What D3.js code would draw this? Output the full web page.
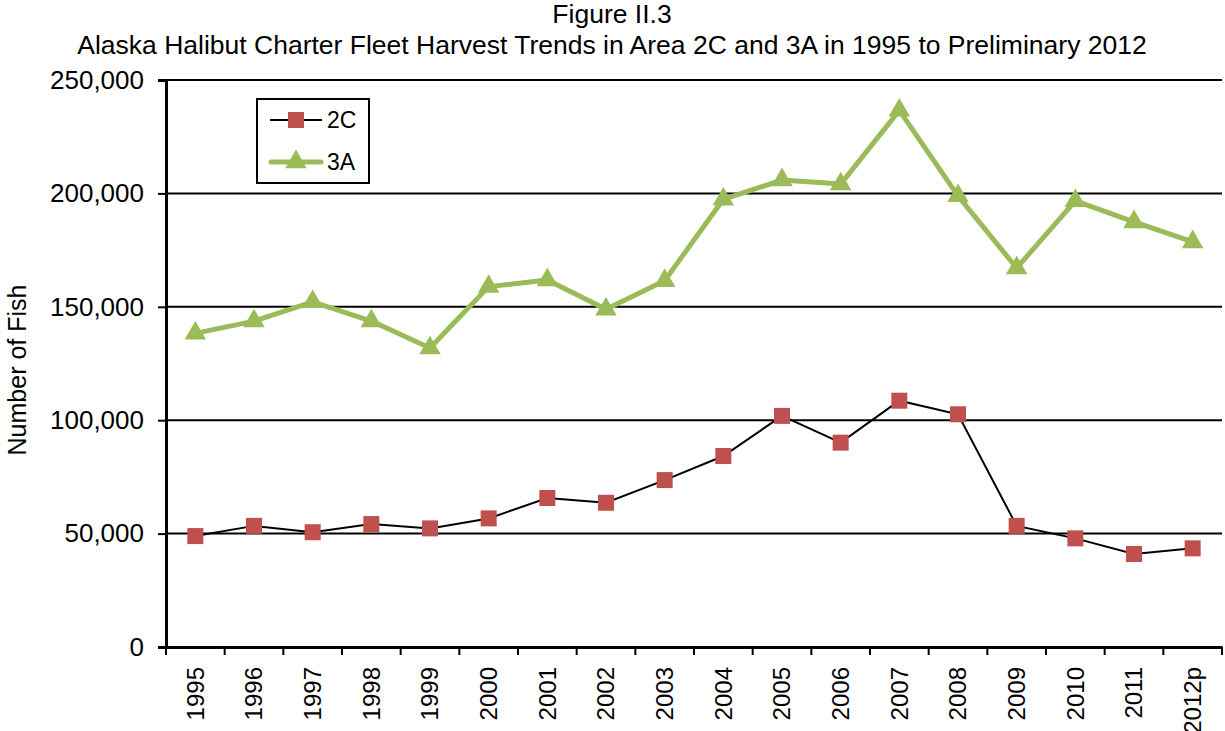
<!DOCTYPE html>
<html><head><meta charset="utf-8">
<script src="https://cdn.jsdelivr.net/npm/d3@7"></script>
<style>body{margin:0;background:#fff;} text{font-family:Arial,"Liberation Sans",sans-serif;}</style>
</head><body>
<svg id="c" width="1225" height="731"></svg>
<script>
const categories = ["1995","1996","1997","1998","1999","2000","2001","2002","2003","2004","2005","2006","2007","2008","2009","2010","2011","2012p"];
const series2C = [48900,53400,50600,54200,52300,56700,65700,63600,73600,84200,101900,90100,108600,102600,53400,47900,41000,43500];
const series3A = [138300,143700,152200,143700,131800,158900,161800,148900,161500,197400,205900,204100,236600,198900,167100,196700,187400,178600];
const yTicks = [0,50000,100000,150000,200000,250000];
const titleLines = ["Figure II.3","Alaska Halibut Charter Fleet Harvest Trends in Area 2C and 3A in 1995 to Preliminary 2012"];
const yLabel = "Number of Fish";
const legendNames = ["2C","3A"];

const svg = d3.select("#c");
const L=166, R=1222, T=80, B=647;
const x = d3.scaleBand().domain(categories).range([L,R]);
const y = d3.scaleLinear().domain([0,250000]).range([B,T]);
const fmt = d3.format(",");

// titles
svg.selectAll("text.title").data(titleLines).join("text")
  .attr("x",612).attr("y",(d,i)=>23+i*31).attr("text-anchor","middle")
  .attr("font-size",26.5).attr("fill","#000").text(d=>d);

// gridlines
svg.append("g").selectAll("line").data(yTicks.filter(d=>d>0)).join("line")
  .attr("x1",L).attr("x2",R).attr("y1",d=>y(d)).attr("y2",d=>y(d))
  .attr("stroke","#000").attr("stroke-width",2);

// y axis
const ya = svg.append("g").attr("transform",`translate(${L},0)`)
  .call(d3.axisLeft(y).tickValues(yTicks).tickFormat(fmt).tickSize(8).tickPadding(14));
ya.select(".domain").attr("stroke","#000").attr("stroke-width",3);
ya.selectAll(".tick line").attr("stroke","#000").attr("stroke-width",2);
ya.selectAll(".tick text").attr("font-size",26).attr("fill","#000").attr("font-family","Arial, 'Liberation Sans', sans-serif");

// x axis
const xa = svg.append("g").attr("transform",`translate(0,${B})`)
  .call(d3.axisBottom(x).tickSize(0).tickPadding(0));
xa.select(".domain").attr("stroke","#000").attr("stroke-width",3);
xa.selectAll(".tick text").attr("font-size",24).attr("fill","#000")
  .attr("font-family","Arial, 'Liberation Sans', sans-serif")
  .attr("transform","rotate(-90)").attr("text-anchor","end")
  .attr("x",-20).attr("y",0).attr("dy","0.35em");
// x tick marks at band boundaries
const bounds = categories.map(c=>x(c)).concat([R]);
svg.append("g").selectAll("line").data(bounds).join("line")
  .attr("x1",d=>d).attr("x2",d=>d).attr("y1",B).attr("y2",B+8)
  .attr("stroke","#000").attr("stroke-width",2);

// y label
svg.append("text").attr("transform",`translate(26,370) rotate(-90)`)
  .attr("text-anchor","middle").attr("font-size",25).attr("fill","#000").text(yLabel);

const cx = d=>x(d)+x.bandwidth()/2;
const line = d3.line().x((d,i)=>cx(categories[i])).y(d=>y(d));

// 3A
svg.append("path").datum(series3A).attr("d",line).attr("fill","none")
  .attr("stroke","#9BBB59").attr("stroke-width",5).attr("stroke-linejoin","round");
const tri = d3.symbol().type(d3.symbolTriangle).size(200);
svg.append("g").selectAll("path").data(series3A).join("path")
  .attr("d",tri).attr("transform",(d,i)=>`translate(${cx(categories[i])},${y(d)})`)
  .attr("fill","#9BBB59");

// 2C
svg.append("path").datum(series2C).attr("d",line).attr("fill","none")
  .attr("stroke","#000").attr("stroke-width",2);
svg.append("g").selectAll("rect").data(series2C).join("rect")
  .attr("x",(d,i)=>cx(categories[i])-8).attr("y",d=>y(d)-8)
  .attr("width",16).attr("height",16).attr("fill","#C0504D");

// legend
const lg = svg.append("g");
lg.append("rect").attr("x",257).attr("y",99).attr("width",112).attr("height",84)
  .attr("fill","#fff").attr("stroke","#000").attr("stroke-width",2);
lg.append("line").attr("x1",270).attr("x2",322).attr("y1",120).attr("y2",120).attr("stroke","#000").attr("stroke-width",2);
lg.append("rect").attr("x",288).attr("y",112).attr("width",16).attr("height",16).attr("fill","#C0504D");
lg.append("line").attr("x1",271).attr("x2",321).attr("y1",162).attr("y2",162).attr("stroke","#9BBB59").attr("stroke-width",5).attr("stroke-linecap","round");
lg.append("path").attr("d",tri).attr("transform","translate(296,162)").attr("fill","#9BBB59");
lg.selectAll("text.lg").data(legendNames).join("text")
  .attr("x",327).attr("y",(d,i)=>120+i*42).attr("dy","0.35em")
  .attr("font-size",23).attr("fill","#000").text(d=>d);
</script>
</body></html>
